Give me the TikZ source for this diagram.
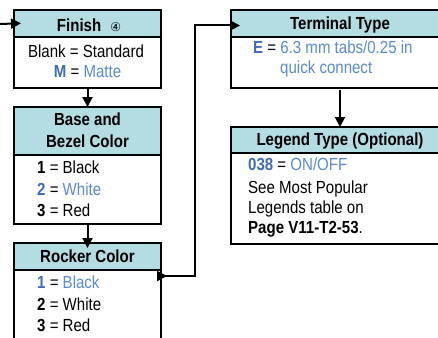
\documentclass[tikz,border=0pt]{standalone}
\usepackage{fontspec}
\setmainfont[FakeStretch=0.86]{Liberation Sans}
\newfontfamily\dejavu{DejaVu Sans}
\usetikzlibrary{arrows.meta}
\definecolor{hdrfill}{HTML}{B3DDE3}
\definecolor{txtblue}{HTML}{5A8AD0}
\definecolor{keyblue}{HTML}{3D6DB8}
\tikzset{
  panel/.style={draw=black, line width=1.3pt, anchor=north west, inner sep=0pt, outer sep=0pt},
  hdr/.style={panel, fill=hdrfill},
  txt/.style={anchor=base west, inner sep=0pt, font=\fontsize{17.5}{20}\selectfont},
  ctxt/.style={txt, anchor=base},
  htxt/.style={ctxt, font=\fontsize{17.5}{20}\selectfont\bfseries},
  conn/.style={line width=2pt, -{Triangle[length=10pt,width=10pt]}},
  tailtri/.style={{Triangle[reversed,length=10pt,width=10pt]}-{Triangle[length=10pt,width=10pt]}},
}
\newcommand{\keyb}[1]{\textbf{\color{keyblue}#1}}
\newcommand{\valb}[1]{{\color{txtblue}#1}}
\begin{document}
\begin{tikzpicture}[x=1pt,y=-1pt]
\useasboundingbox (0,0) rectangle (438,337);
\clip (0,0) rectangle (438,337);
\fill[white] (0,0) rectangle (438,337);
% Finish
\node[panel, minimum width=147pt, minimum height=51pt] (finB) at (14,37) {};
\node[hdr, minimum width=147pt, minimum height=27pt] (finH) at (14,10) {};
\node[htxt] (finT) at (89,31) {Finish\hspace{9pt}{\dejavu\mdseries\fontsize{12}{12}\selectfont ④}};
\node[ctxt] (fin1) at (86,57) {Blank = Standard};
\node[ctxt] (fin2) at (87.5,77) {\keyb{M} = \valb{Matte}};
% Base and Bezel
\node[panel, minimum width=147pt, minimum height=69pt] (basB) at (14,155) {};
\node[hdr, minimum width=147pt, minimum height=48pt] (basH) at (14,107) {};
\node[htxt] (basT1) at (87.5,125) {Base and};
\node[htxt] (basT2) at (87.5,147) {Bezel Color};
\node[txt] (bas1) at (37,173) {\textbf{1} = Black};
\node[txt] (bas2) at (37,195) {\keyb{2} = \valb{White}};
\node[txt] (bas3) at (37,216) {\textbf{3} = Red};
% Rocker
\node[panel, minimum width=147pt, minimum height=90pt] (rocB) at (14,270) {};
\node[hdr, minimum width=147pt, minimum height=27pt] (rocH) at (14,243) {};
\node[htxt] (rocT) at (87.5,262) {Rocker Color};
\node[txt] (roc1) at (37,288) {\keyb{1} = \valb{Black}};
\node[txt] (roc2) at (37,310) {\textbf{2} = White};
\node[txt] (roc3) at (37,331) {\textbf{3} = Red};
% Terminal
\node[panel, minimum width=218pt, minimum height=51pt] (terB) at (231,37) {};
\node[hdr, minimum width=218pt, minimum height=27pt] (terH) at (231,10) {};
\node[htxt] (terT) at (340,30) {Terminal Type};
\node[txt] (ter1) at (253,53) {\keyb{E} = \valb{6.3 mm tabs/0.25 in}};
\node[txt] (ter2) at (280,73) {\valb{quick connect}};
% Legend
\node[panel, minimum width=218pt, minimum height=91pt] (legB) at (231,153) {};
\node[hdr, minimum width=218pt, minimum height=26pt] (legH) at (231,127) {};
\node[htxt] (legT) at (340,145) {Legend Type (Optional)};
\node[txt] (leg1) at (248,170) {\keyb{038} = \valb{ON/OFF}};
\node[txt] (leg2) at (248,193) {See Most Popular};
\node[txt] (leg3) at (248,213) {Legends table on};
\node[txt] (leg4) at (248,233) {\textbf{Page V11-T2-53}.};
% connectors
\coordinate (inL) at (0,24);
\draw[conn, shorten >=-7pt] (inL) -- (finH.west);
\draw[conn] (finB.south) -- (basH.north);
\draw[conn, shorten >=-5pt] (basB.south) -- (rocH.north);
\draw[line width=2pt, tailtri, shorten <=-4pt, shorten >=-9pt] ([yshift=-6pt]rocB.north east) -- ++(34,0) |- ([yshift=-2pt]terH.west);
\draw[conn] ([yshift=-2pt]terB.south) -- (legH.north);
\end{tikzpicture}
\end{document}
